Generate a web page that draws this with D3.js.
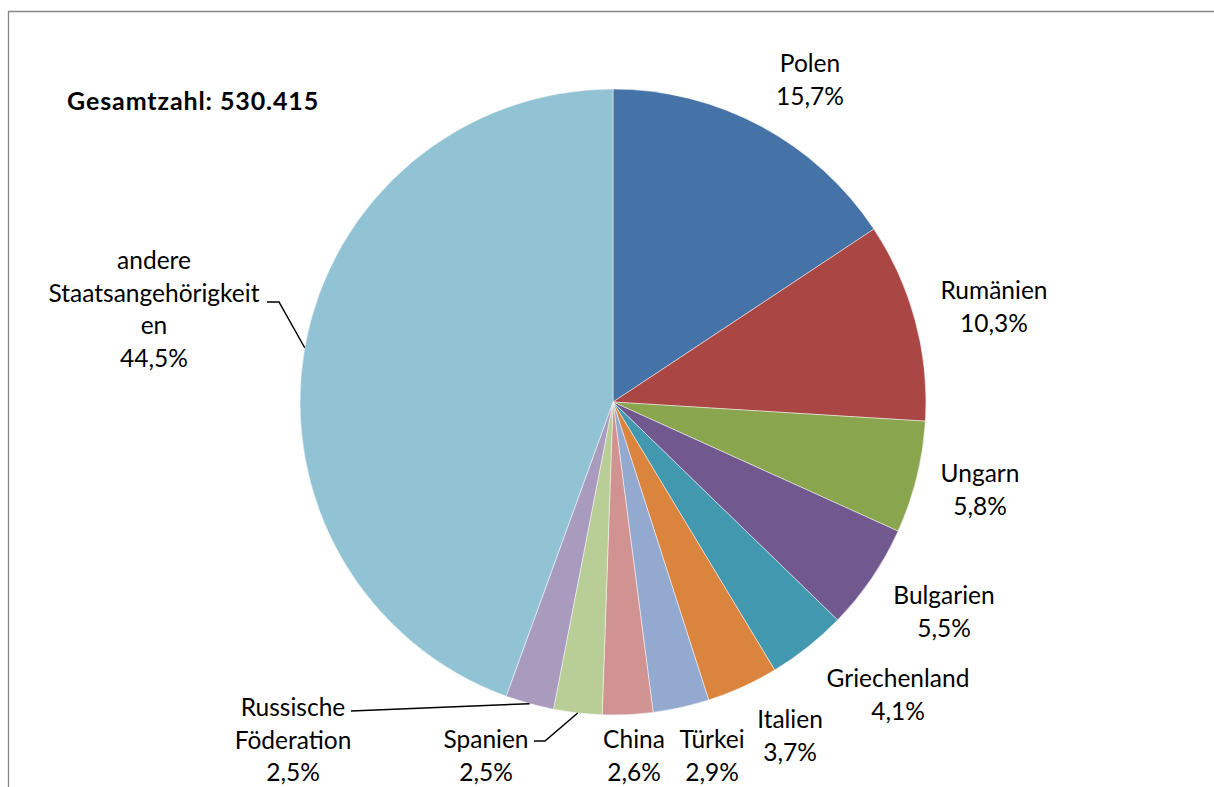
<!DOCTYPE html>
<html lang="de">
<head>
<meta charset="utf-8">
<title>Ausländische Staatsangehörigkeiten</title>
<script src="https://cdn.jsdelivr.net/npm/d3@7/dist/d3.min.js"></script>
<style>
  html, body { margin: 0; padding: 0; background: #fff; }
  svg { display: block; }
  text { font-family: Lato, "Noto Sans", sans-serif; fill: #000; }
</style>
</head>
<body>
<svg id="chart" width="1214" height="787"></svg>
<script>
// Anteile nach Staatsangehörigkeit (in %)
const categories = ["Polen", "Rumänien", "Ungarn", "Bulgarien", "Griechenland", "Italien",
  "Türkei", "China", "Spanien", "Russische Föderation", "andere Staatsangehörigkeiten"];
const shares = [15.7, 10.3, 5.8, 5.5, 4.1, 3.7, 2.9, 2.6, 2.5, 2.5, 44.5];
const shareLabels = ["15,7%", "10,3%", "5,8%", "5,5%", "4,1%", "3,7%", "2,9%", "2,6%", "2,5%", "2,5%", "44,5%"];
// Beschriftungszeilen je Kategorie
const nameLines = [["Polen"], ["Rumänien"], ["Ungarn"], ["Bulgarien"], ["Griechenland"], ["Italien"],
  ["Türkei"], ["China"], ["Spanien"], ["Russische", "Föderation"], ["andere", "Staatsangehörigkeit", "en"]];
const totalLabel = "Gesamtzahl: 530.415";

// Farben der Segmente
const colors = ["#4572A7", "#AA4643", "#89A54E", "#71588F", "#4198AF", "#DB843D",
  "#93A9CF", "#D19392", "#B9CD96", "#A99BBD", "#92C3D4"];

// Lage der Beschriftungen (Mitte x, Grundlinie der ersten Zeile)
const labelAnchors = [
  [810, 72], [994, 299], [980, 482], [944, 604], [898, 687], [790, 728],
  [712, 748], [634, 748], [486, 748], [293, 716], [154, 269]
];
// Führungslinien: Startpunkte neben der Beschriftung (Knick, dann zum Segmentrand)
const leaders = {
  8:  [[534, 741], [545, 741]],
  9:  [[351, 711]],
  10: [[267, 302], [279, 302]]
};

const svg = d3.select("#chart");
const W = 1214, H = 787;
const cx = 613, cy = 402, R = 313;
const lineStep = 32.5;

// Rahmen (oben und links sichtbar)
svg.append("path")
  .attr("d", `M8.5,${H} L8.5,11.5 L${W},11.5`)
  .attr("fill", "none")
  .attr("stroke", "#868686")
  .attr("stroke-width", 1.3);

const pie = d3.pie().sort(null).value(d => d)
  .startAngle(0).endAngle(2 * Math.PI);
const arcs = pie(shares);
const arc = d3.arc().innerRadius(0).outerRadius(R);

const g = svg.append("g").attr("transform", `translate(${cx},${cy})`);
g.selectAll("path.slice")
  .data(arcs)
  .join("path")
  .attr("class", "slice")
  .attr("d", arc)
  .attr("fill", (d, i) => colors[i])
  .attr("stroke", "#ffffff")
  .attr("stroke-opacity", 0.6)
  .attr("stroke-width", 0.8);

// Führungslinien zum Mittelpunkt des Segmentrandes
Object.entries(leaders).forEach(([k, pts]) => {
  const a = arcs[+k];
  const mid = (a.startAngle + a.endAngle) / 2;
  const end = [cx + R * Math.sin(mid), cy - R * Math.cos(mid)];
  svg.append("path")
    .attr("d", d3.line()(pts.concat([end])))
    .attr("fill", "none")
    .attr("stroke", "#000")
    .attr("stroke-width", 1.5);
});

// Beschriftungen
categories.forEach((c, i) => {
  const [x, y] = labelAnchors[i];
  const lines = nameLines[i].concat([shareLabels[i]]);
  const t = svg.append("text")
    .attr("text-anchor", "middle")
    .attr("font-size", 24.5);
  lines.forEach((ln, j) => {
    t.append("tspan").attr("x", x).attr("y", y + j * lineStep).text(ln);
  });
});

// Gesamtzahl
svg.append("text")
  .attr("x", 67)
  .attr("y", 110)
  .attr("font-size", 25)
  .attr("font-weight", "bold")
  .attr("letter-spacing", 0.9)
  .text(totalLabel);
</script>
</body>
</html>
